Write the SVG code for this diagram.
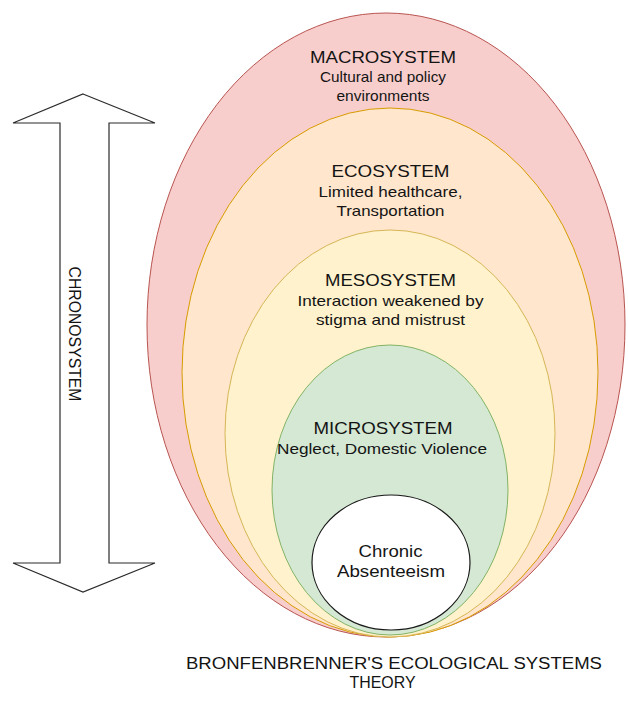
<svg xmlns="http://www.w3.org/2000/svg" width="628" height="709" viewBox="0 0 628 709">
<style>
text{font-family:"Liberation Sans",Arial,Helvetica,sans-serif;fill:#141414;text-anchor:middle}
.h{font-size:17px}
.s{font-size:15px}
.c{font-size:16px}
.ring{stroke-width:1}
</style>
<rect width="628" height="709" fill="#ffffff"/>
<g id="chronosystem">
<polygon points="83,94 155,123 109,123 109,563 155,563 83,592 13,563 60,563 60,123 13,123" fill="#ffffff" stroke="#2b2b2b" stroke-width="1.2" stroke-linejoin="miter"/>
<text class="c" transform="translate(69,334) rotate(90)" textLength="135" lengthAdjust="spacingAndGlyphs">CHRONOSYSTEM</text>
</g>
<g id="macrosystem">
<ellipse class="ring" cx="386" cy="325" rx="239" ry="312" fill="#f8cecc" stroke="#b85450"/>
<text class="h" x="383" y="62.5" textLength="146" lengthAdjust="spacingAndGlyphs">MACROSYSTEM</text>
<text class="s" x="383" y="82" textLength="126" lengthAdjust="spacingAndGlyphs">Cultural and policy</text>
<text class="s" x="383" y="101" textLength="93" lengthAdjust="spacingAndGlyphs">environments</text>
</g>
<g id="ecosystem">
<ellipse class="ring" cx="390" cy="372.5" rx="208" ry="264.5" fill="#ffe6cc" stroke="#d79b00"/>
<text class="h" x="390.5" y="177" textLength="118" lengthAdjust="spacingAndGlyphs">ECOSYSTEM</text>
<text class="s" x="390.5" y="197" textLength="144" lengthAdjust="spacingAndGlyphs">Limited healthcare,</text>
<text class="s" x="390.5" y="216" textLength="108" lengthAdjust="spacingAndGlyphs">Transportation</text>
</g>
<g id="mesosystem">
<ellipse class="ring" cx="390" cy="433.5" rx="165" ry="203.5" fill="#fff2cc" stroke="#d6b656"/>
<text class="h" x="390.5" y="286" textLength="131" lengthAdjust="spacingAndGlyphs">MESOSYSTEM</text>
<text class="s" x="390.5" y="305.5" textLength="186" lengthAdjust="spacingAndGlyphs">Interaction weakened by</text>
<text class="s" x="390.5" y="325" textLength="149" lengthAdjust="spacingAndGlyphs">stigma and mistrust</text>
</g>
<g id="microsystem">
<ellipse class="ring" cx="390" cy="490" rx="118" ry="145" fill="#d5e8d4" stroke="#82b366"/>
<text class="h" x="383" y="434" textLength="139" lengthAdjust="spacingAndGlyphs">MICROSYSTEM</text>
<text class="s" x="382" y="453.5" textLength="210" lengthAdjust="spacingAndGlyphs">Neglect, Domestic Violence</text>
</g>
<g id="chronic-absenteeism">
<ellipse cx="391" cy="562.5" rx="79" ry="67.5" fill="#ffffff" stroke="#1a1a1a" stroke-width="1.2"/>
<text class="c" x="390.5" y="557" textLength="64" lengthAdjust="spacingAndGlyphs">Chronic</text>
<text class="c" x="391" y="576.5" textLength="108" lengthAdjust="spacingAndGlyphs">Absenteeism</text>
</g>
<g id="title">
<text class="c" x="394" y="669" textLength="416" lengthAdjust="spacingAndGlyphs">BRONFENBRENNER'S ECOLOGICAL SYSTEMS</text>
<text class="c" x="382.5" y="688" textLength="66" lengthAdjust="spacingAndGlyphs">THEORY</text>
</g>
<g id="connectors"></g>
</svg>
